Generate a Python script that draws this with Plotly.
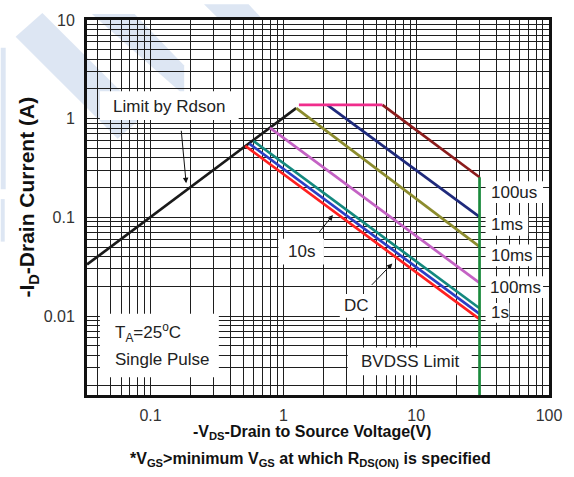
import plotly.graph_objects as go

# ---------------- data ----------------
rdson_v = [0.0333, 1.25]
rdson_i = [0.0333, 1.28]

flat_v = [1.31, 5.57]
flat_i = [1.38, 1.38]

us100_v = [5.57, 30]
us100_i = [1.38, 0.255]

ms1_v = [2.14, 30]
ms1_i = [1.38, 0.101]

ms10_v = [1.25, 30]
ms10_i = [1.28, 0.0506]

ms100_v = [0.794, 30]
ms100_i = [0.807, 0.0217]

s1_v = [0.597, 30]
s1_i = [0.594, 0.0120]

s10_v = [0.554, 30]
s10_i = [0.558, 0.0105]

dc_v = [0.517, 30]
dc_i = [0.530, 0.0093]

bvdss_v = [30, 30]
bvdss_i = [0.255, 0.0012]

x_ticks = [0.1, 1, 10, 100]
x_ticktext = ["0.1", "1", "10", "100"]
y_ticks = [0.01, 0.1, 1, 10]
y_ticktext = ["0.01", "0.1", "1", "10"]

# ---------------- layout geometry ----------------
W, H = 574, 477
L, R, T, B = 87, 21, 16, 82
PW, PH = W - L - R, H - T - B
FONT = "Arial, Liberation Sans, sans-serif"


def px(x):
    return (x - L) / PW


def py(y):
    return (T + PH - y) / PH


series = [
    (rdson_v, rdson_i, "#1a1a1a"),
    (dc_v, dc_i, "#ff2020"),
    (s10_v, s10_i, "#2b3fc4"),
    (s1_v, s1_i, "#14897f"),
    (ms100_v, ms100_i, "#c462c4"),
    (ms10_v, ms10_i, "#8c8c2e"),
    (ms1_v, ms1_i, "#1f2a7c"),
    (us100_v, us100_i, "#8b1c1c"),
    (flat_v, flat_i, "#f02d8c"),
    (bvdss_v, bvdss_i, "#1a8a3c"),
]

fig = go.Figure()
for xs, ys, c in series:
    fig.add_trace(go.Scatter(x=xs, y=ys, mode="lines",
                             line=dict(color=c, width=2.7),
                             showlegend=False, hoverinfo="skip"))

minor_x = [m * 10 ** k for k in range(-2, 2) for m in range(2, 10)]
minor_y = [m * 10 ** k for k in range(-3, 1) for m in range(2, 10)]

grid_c = "#1e1e1e"
fig.update_xaxes(type="log", range=[-1.478, 2], tickmode="array",
                 tickvals=x_ticks, ticktext=x_ticktext,
                 showgrid=True, gridcolor=grid_c, gridwidth=1.3,
                 minor=dict(tickmode="array", tickvals=minor_x, showgrid=True,
                            gridcolor=grid_c, gridwidth=1.2, ticks=""),
                 showline=True, linecolor="#111", linewidth=3, mirror=True,
                 ticks="", zeroline=False,
                 tickfont=dict(family=FONT, size=16, color="#333"),
                 ticklabelstandoff=4)
fig.update_yaxes(type="log", range=[-2.8, 1], tickmode="array",
                 tickvals=y_ticks, ticktext=y_ticktext,
                 showgrid=True, gridcolor=grid_c, gridwidth=1.3,
                 minor=dict(tickmode="array", tickvals=minor_y, showgrid=True,
                            gridcolor=grid_c, gridwidth=1.2, ticks=""),
                 showline=True, linecolor="#111", linewidth=3, mirror=True,
                 ticks="", zeroline=False,
                 tickfont=dict(family=FONT, size=16, color="#333"),
                 ticklabelstandoff=6)

shapes = []
# faint watermark (light blue) behind the grid
wm = "#dde6f3"


def poly(pts):
    d = "M " + " L ".join(f"{px(a):.4f},{py(b):.4f}" for a, b in pts) + " Z"
    return dict(type="path", xref="paper", yref="paper", path=d,
                fillcolor=wm, line=dict(width=0), layer="below")


shapes.append(poly([(15, 33), (42, 9), (145, 112), (118, 136)]))
shapes.append(poly([(92, 10), (135, 10), (185, 62), (185, 92)]))
shapes.append(poly([(0, 44), (5, 44), (5, 187), (0, 187)]))
shapes.append(poly([(0, 197), (4, 197), (4, 240), (0, 240)]))
shapes.append(poly([(205, 0), (250, 0), (262, 13), (218, 13)]))


# white label boxes covering the grid
def box(x0, y0, x1, y1):
    return dict(type="rect", xref="paper", yref="paper",
                x0=px(x0), x1=px(x1), y0=py(y1), y1=py(y0),
                fillcolor="white", line=dict(width=0), layer="above")


shapes.append(box(100, 88, 240, 117))      # Limit by Rdson
shapes.append(box(100, 313, 220, 377))     # TA / Single Pulse
shapes.append(box(350, 347, 475, 375))     # BVDSS Limit
shapes.append(box(280, 237, 326, 263))     # 10s
shapes.append(box(342, 293, 377, 317))     # DC
shapes.append(box(489, 179, 547, 201))     # 100us
shapes.append(box(489, 213, 532, 234))     # 1ms
shapes.append(box(489, 243, 540, 265))     # 10ms
shapes.append(box(489, 275, 547, 297))     # 100ms
shapes.append(box(489, 302, 513, 322))     # 1s
fig.update_layout(shapes=shapes)

ann = []


def text(x, y, s, size=17, anchor="center", bold=False, color="#222", angle=0):
    if bold:
        s = "<b>" + s + "</b>"
    ann.append(dict(x=px(x), y=py(y), xref="paper", yref="paper", text=s,
                    showarrow=False, xanchor=anchor, yanchor="middle",
                    textangle=angle,
                    font=dict(family=FONT, size=size, color=color)))


text(170, 103, "Limit by Rdson")
text(113, 332, "T<sub>A</sub>=25<sup>o</sup>C", anchor="left")
text(113, 359, "Single Pulse", anchor="left")
text(413, 361, "BVDSS Limit")
text(303, 250, "10s")
text(359, 305, "DC")
text(492, 190, "100us", anchor="left")
text(492, 223, "1ms", anchor="left")
text(492, 254, "10ms", anchor="left")
text(491, 286, "100ms", anchor="left")
text(492, 312, "1s", anchor="left")

text(314, 433, "-V<sub>DS</sub>-Drain to Source Voltage(V)", size=16, bold=True, color="#111")
text(312, 460, "*V<sub>GS</sub>&gt;minimum V<sub>GS</sub> at which R<sub>DS(ON)</sub> is specified",
     size=16, bold=True, color="#111")
text(28, 195, "-I<sub>D</sub>-Drain Current (A)", size=21, bold=True, color="#111", angle=-90)


def arrow(hx, hy, tx, ty):
    ann.append(dict(x=px(hx), y=py(hy), xref="paper", yref="paper", text="",
                    showarrow=True, ax=tx - hx, ay=ty - hy,
                    arrowhead=2, arrowsize=1.1, arrowwidth=1, arrowcolor="#111"))


arrow(187, 181, 182, 127)
arrow(335, 213, 320, 232)
arrow(395, 262, 373, 285)

fig.update_layout(annotations=ann,
                  width=W, height=H,
                  margin=dict(l=L, r=R, t=T, b=B),
                  paper_bgcolor="white", plot_bgcolor="rgba(0,0,0,0)",
                  font=dict(family=FONT))

fig.write_html("out.html")
